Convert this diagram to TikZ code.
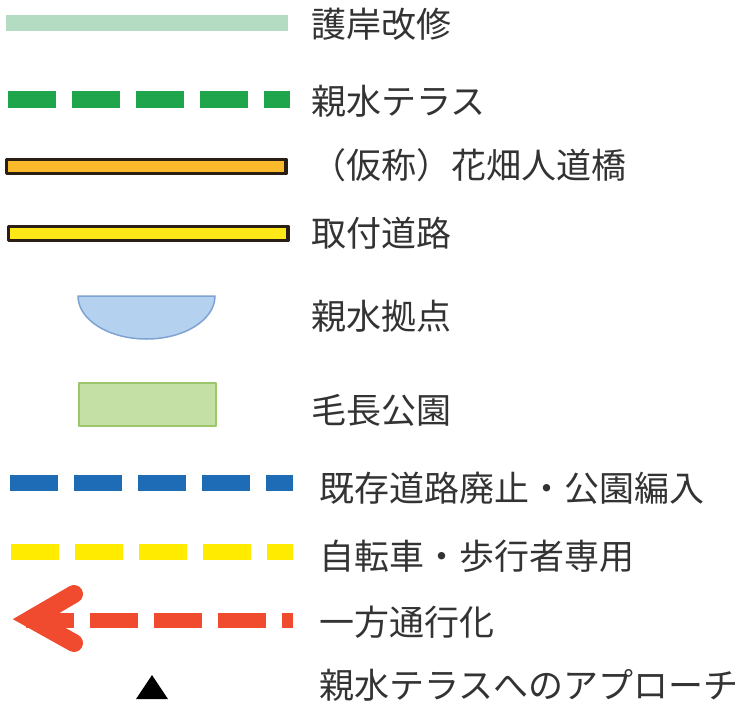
\documentclass[tikz,border=0pt]{standalone}
\usepackage{fontspec}
\newfontfamily\jpfont{Noto Sans CJK JP}
\definecolor{gogan}{HTML}{B3DCC3}
\definecolor{terrace}{HTML}{1FA64D}
\definecolor{bridge}{HTML}{FBBA2B}
\definecolor{road}{HTML}{FFE817}
\definecolor{edge}{HTML}{2A1F14}
\definecolor{hubfill}{HTML}{B5D1F0}
\definecolor{hubline}{HTML}{7FA3D0}
\definecolor{parkfill}{HTML}{C5E0A5}
\definecolor{parkline}{HTML}{9CC66B}
\definecolor{closed}{HTML}{1E6CB5}
\definecolor{bike}{HTML}{FFEB00}
\definecolor{oneway}{HTML}{F04B2F}
\begin{document}
\begin{tikzpicture}[x=1pt,y=-1pt,line join=round]
\tikzset{every node/.style={font=\jpfont\fontsize{35}{35}\selectfont,anchor=west,inner sep=0pt,text=black!80},
  dashline/.style={line width=16pt,dash pattern=on 48pt off 16pt}}
\useasboundingbox (0,0) rectangle (743,709);
% legend symbols
\fill[gogan] (6,15) rectangle (288,31);
\draw[terrace,dashline,line width=17pt] (8,99.5)--(290,99.5);
\draw[edge,line width=3.5pt,fill=bridge] (6.5,159.5) rectangle (286,173.5);
\draw[edge,line width=3.5pt,fill=road] (8.5,226.5) rectangle (288,240.5);
\draw[hubline,line width=1.5pt,fill=hubfill] (78,296) arc[start angle=180,end angle=360,x radius=68.5pt,y radius=43pt] -- cycle;
\draw[parkline,line width=2pt,fill=parkfill] (79,383) rectangle (216,426);
\draw[closed,dashline] (10,483)--(293,483);
\draw[bike,dashline] (11,552)--(293,552);
\draw[oneway,dashline,line width=15pt] (26,620)--(293,620);
\draw[oneway,line width=18pt,line cap=round,line join=miter] (74,594)--(31,619)--(74,643);
\fill[oneway] (31,619)--(60,602)--(60,636)--cycle;
\fill[black] (136,699)--(152,675)--(168,699)--cycle;
% labels
\foreach \y/\t [count=\i] in {24/護岸改修,101/親水テラス,165/（仮称）花畑人道橋,233/取付道路,316/親水拠点,410/毛長公園}
  \node (a\i) at (311,\y) {\t};
\foreach \y/\t [count=\i] in {488/既存道路廃止・公園編入,556/自転車・歩行者専用,622/一方通行化,685/親水テラスへのアプローチ}
  \node (b\i) at (319,\y) {\t};
\end{tikzpicture}
\end{document}
